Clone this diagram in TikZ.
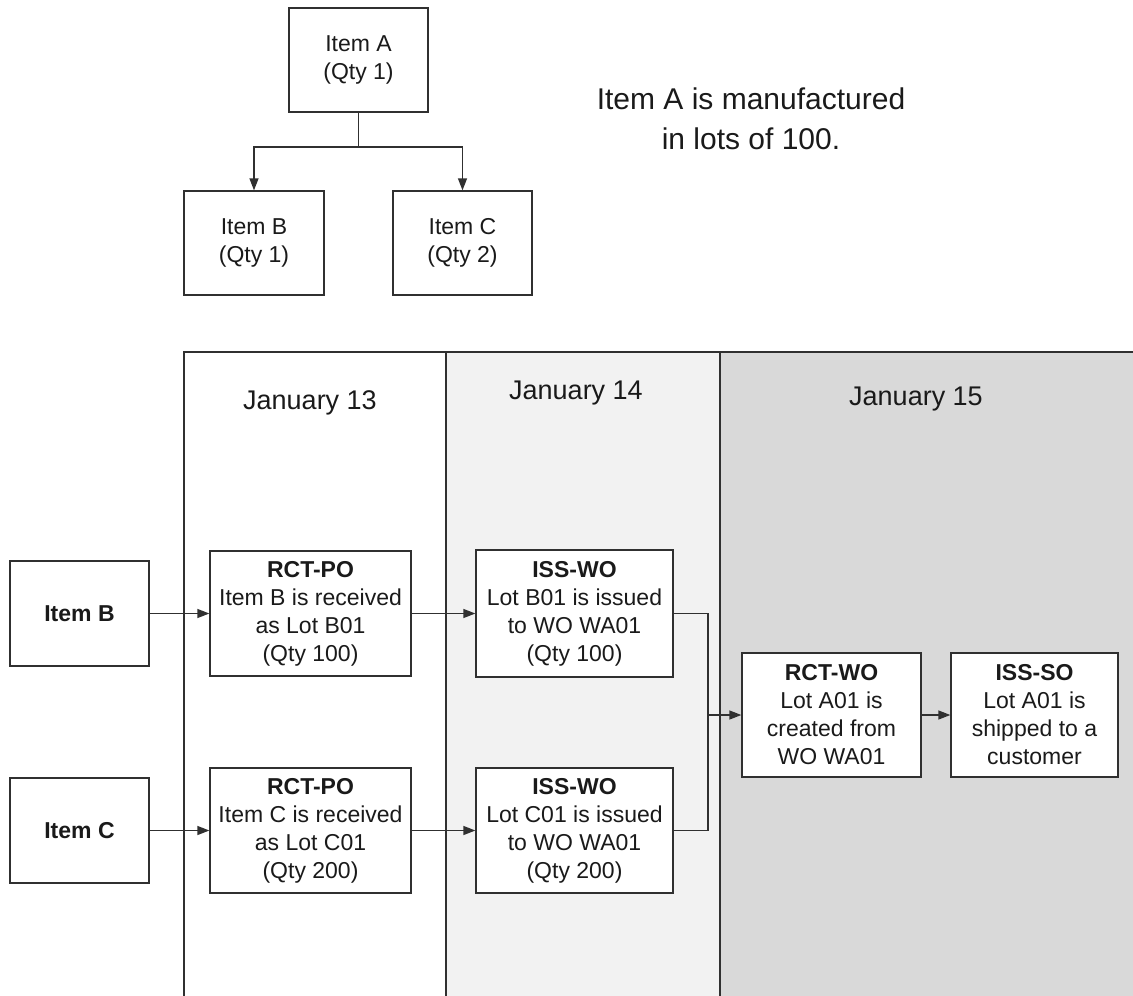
\documentclass[tikz,border=0pt]{standalone}
\usepackage{fontspec}
\setmainfont{Liberation Sans}
\usetikzlibrary{arrows.meta}
\definecolor{lineC}{HTML}{303030}
\definecolor{textC}{HTML}{1A1A1A}
\definecolor{laneB}{HTML}{F2F2F2}
\definecolor{laneC}{HTML}{D9D9D9}
\begin{document}
\begin{tikzpicture}[x=1pt,y=-1pt,
  box/.style={draw=lineC,line width=1.3pt,fill=white,align=center,
    font=\fontsize{23}{28}\selectfont,text=textC,inner sep=0pt},
  conn/.style={draw=lineC,line width=1.3pt},
  arr/.style={conn,-{Triangle[length=12pt,width=9pt]}},
  lbl/.style={text=textC,align=center,inner sep=0pt}]
\useasboundingbox (0,0) rectangle (1133,996);
% lanes
\fill[laneB] (446,352) rectangle (720,996);
\fill[laneC] (720,352) rectangle (1133,996);
\draw[conn] (184,996) -- (184,352) -- (1133,352);
\draw[conn] (446,352) -- (446,996);
\draw[conn] (720,352) -- (720,996);
\node[lbl,font=\fontsize{27}{32}\selectfont] (d13) at (310,403) {January 13};
\node[lbl,font=\fontsize{27}{32}\selectfont] (d14) at (576,393) {January 14};
\node[lbl,font=\fontsize{27}{32}\selectfont] (d15) at (916,399) {January 15};
% tree
\node[box,minimum width=139pt,minimum height=104pt] (TA) at (358.5,60) {Item A\\(Qty 1)};
\node[box,minimum width=140pt,minimum height=104pt] (TB) at (254,243) {Item B\\(Qty 1)};
\node[box,minimum width=139pt,minimum height=104pt] (TC) at (462.5,243) {Item C\\(Qty 2)};
\coordinate (tj) at (358.5,147);
\draw[conn] (TA.south) -- (tj);
\draw[arr] (tj) -| (TB.north);
\draw[arr] (tj) -| (TC.north);
\node[lbl,font=\fontsize{30}{40}\selectfont] (note) at (751,119) {Item A is manufactured\\in lots of 100.};
% flow
\node[box,minimum width=139pt,minimum height=105pt,font=\fontsize{23}{28}\selectfont\bfseries] (IB) at (79.5,613.5) {Item B};
\node[box,minimum width=139pt,minimum height=105pt,font=\fontsize{23}{28}\selectfont\bfseries] (IC) at (79.5,830.5) {Item C};
\node[box,minimum width=201pt,minimum height=125pt] (RB) at (310.5,613.5) {\textbf{RCT-PO}\\Item B is received\\as Lot B01\\(Qty 100)};
\node[box,minimum width=201pt,minimum height=125pt] (RC) at (310.5,830.5) {\textbf{RCT-PO}\\Item C is received\\as Lot C01\\(Qty 200)};
\node[box,minimum width=197pt,minimum height=127pt] (WB) at (574.5,613.5) {\textbf{ISS-WO}\\Lot B01 is issued\\to WO WA01\\(Qty 100)};
\node[box,minimum width=197pt,minimum height=125pt] (WC) at (574.5,830.5) {\textbf{ISS-WO}\\Lot C01 is issued\\to WO WA01\\(Qty 200)};
\node[box,minimum width=179pt,minimum height=124pt] (RW) at (831.5,715) {\textbf{RCT-WO}\\Lot A01 is\\created from\\WO WA01};
\node[box,minimum width=167pt,minimum height=124pt] (SO) at (1034.5,715) {\textbf{ISS-SO}\\Lot A01 is\\shipped to a\\customer};
\draw[arr] (IB.east) -- (RB.west);
\draw[arr] (IC.east) -- (RC.west);
\draw[arr] (RB.east) -- (WB.west);
\draw[arr] (RC.east) -- (WC.west);
\coordinate (mj) at (708,715);
\draw[conn] (WB.east) -| (mj);
\draw[conn] (WC.east) -| (mj);
\draw[arr] (mj) -- (RW.west);
\draw[arr] (RW.east) -- (SO.west);
\end{tikzpicture}
\end{document}
